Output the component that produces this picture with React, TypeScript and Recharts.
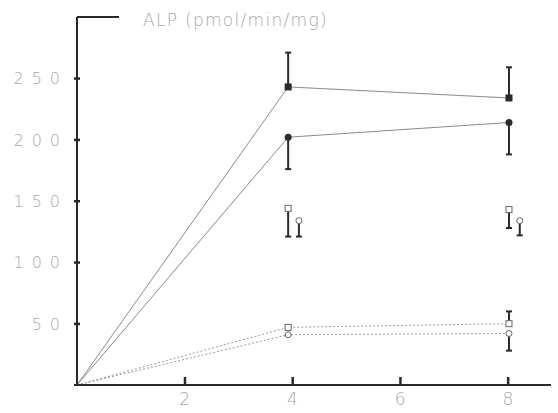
import { ComposedChart, Line, Scatter, XAxis, YAxis, ErrorBar, ReferenceLine } from 'recharts';

// time (weeks) positions as plotted, incl. origin
const timeMain = [0, 3.92, 8.02];
const timeSide = [4.12, 8.22];

// connected series (solid lines)
const filledSquare = [0, 243, 234];
const filledSquareErr = [[0, 0], [0, 28], [0, 25]];
const filledCircle = [0, 202, 214];
const filledCircleErr = [[0, 0], [26, 0], [26, 0]];

// dotted series
const openSquareLow = [0, 47, 50];
const openSquareLowErr = [[0, 0], [0, 0], [0, 10]];
const openCircleLow = [0, 41, 42];
const openCircleLowErr = [[0, 0], [0, 0], [14, 0]];

// unconnected points
const openSquareMid = [144, 143];
const openSquareMidErr = [[23, 0], [15, 0]];
const openCircleMid = [134, 134];
const openCircleMidErr = [[13, 0], [12, 0]];

const xTicks = [2, 4, 6, 8];
const yTicks = [50, 100, 150, 200, 250];

const rows = (xs: number[], ys: number[], errs: number[][]) =>
  ys.map((y, i) => ({ x: xs[i], y, err: errs[i] }));

const GRAY = '#a8a8a8';
const INK = '#2a2a2a';

const mark = (kind: string) => (p: any) => {
  const { cx, cy, index } = p;
  const k = `${kind}-${index}`;
  if (cx == null || cy == null || (p.payload && p.payload.x === 0)) return <g key={k} />;
  if (kind === 'fs') return <rect key={k} x={cx - 3.5} y={cy - 3.5} width={7} height={7} fill={INK} />;
  if (kind === 'fc') return <circle key={k} cx={cx} cy={cy} r={3.5} fill={INK} />;
  if (kind === 'os') return <rect key={k} x={cx - 3} y={cy - 3} width={6} height={6} fill="#fff" stroke="#666" strokeWidth={1} />;
  return <circle key={k} cx={cx} cy={cy} r={3} fill="#fff" stroke="#666" strokeWidth={1} />;
};

const XTick = (p: any) => {
  const { x, y, payload } = p;
  return (
    <g>
      <rect x={x - 1} y={y - 8} width={2.5} height={8} fill={INK} />
      <text x={x} y={y + 20} textAnchor="middle" fill={GRAY} fontSize={17} fontFamily="DejaVu Sans" fontWeight={200}>
        {payload.value}
      </text>
    </g>
  );
};

const YTick = (p: any) => {
  const { x, y, payload } = p;
  return (
    <g>
      <rect x={x - 3} y={y - 1} width={6} height={2.5} fill={INK} />
      <text x={x - 9} y={y + 6} textAnchor="end" fill={GRAY} fontSize={16} letterSpacing={8} fontFamily="DejaVu Sans" fontWeight={200}>
        {payload.value}
      </text>
    </g>
  );
};

const errProps = { dataKey: 'err', direction: 'y' as const, stroke: INK, strokeWidth: 2, width: 3 };

export default function App() {
  return (
    <div style={{ position: 'absolute', left: 0, top: 0, width: 558, height: 413, background: '#fff' }}>
      <div
        style={{
          position: 'absolute',
          left: 143,
          top: 10,
          color: GRAY,
          fontFamily: 'DejaVu Sans',
          fontWeight: 200,
          fontSize: 17,
          letterSpacing: 1.3,
          whiteSpace: 'nowrap',
        }}
      >
        ALP (pmol/min/mg)
      </div>
      <ComposedChart width={558} height={413} margin={{ top: 17, right: 7, bottom: 0, left: 0 }}>
        <XAxis
          type="number"
          dataKey="x"
          domain={[0, 8.8]}
          ticks={xTicks}
          height={28}
          axisLine={{ stroke: INK, strokeWidth: 2 }}
          tickLine={false}
          tickSize={0}
          tickMargin={0}
          tick={<XTick />}
        />
        <YAxis
          type="number"
          domain={[0, 300]}
          ticks={yTicks}
          width={77}
          axisLine={{ stroke: INK, strokeWidth: 2 }}
          tickLine={false}
          tickSize={0}
          tickMargin={0}
          tick={<YTick />}
        />
        <ReferenceLine
          segment={[{ x: 0, y: 300 }, { x: 0.78, y: 300 }]}
          stroke={INK}
          strokeWidth={2}
          ifOverflow="visible"
        />
        <Line
          data={rows(timeMain, filledSquare, filledSquareErr)}
          dataKey="y"
          type="linear"
          stroke="#8a8a8a"
          strokeWidth={1}
          dot={mark('fs')}
          isAnimationActive={false}
        >
          <ErrorBar {...errProps} />
        </Line>
        <Line
          data={rows(timeMain, filledCircle, filledCircleErr)}
          dataKey="y"
          type="linear"
          stroke="#8a8a8a"
          strokeWidth={1}
          dot={mark('fc')}
          isAnimationActive={false}
        >
          <ErrorBar {...errProps} />
        </Line>
        <Line
          data={rows(timeMain, openSquareLow, openSquareLowErr)}
          dataKey="y"
          type="linear"
          stroke="#9a9a9a"
          strokeWidth={1}
          strokeDasharray="2 2"
          dot={mark('os')}
          isAnimationActive={false}
        >
          <ErrorBar {...errProps} />
        </Line>
        <Line
          data={rows(timeMain, openCircleLow, openCircleLowErr)}
          dataKey="y"
          type="linear"
          stroke="#9a9a9a"
          strokeWidth={1}
          strokeDasharray="2 2"
          dot={mark('oc')}
          isAnimationActive={false}
        >
          <ErrorBar {...errProps} />
        </Line>
        <Scatter
          data={rows(timeMain.slice(1), openSquareMid, openSquareMidErr)}
          dataKey="y"
          shape={mark('os')}
          isAnimationActive={false}
        >
          <ErrorBar {...errProps} />
        </Scatter>
        <Scatter
          data={rows(timeSide, openCircleMid, openCircleMidErr)}
          dataKey="y"
          shape={mark('oc')}
          isAnimationActive={false}
        >
          <ErrorBar {...errProps} />
        </Scatter>
      </ComposedChart>
    </div>
  );
}
